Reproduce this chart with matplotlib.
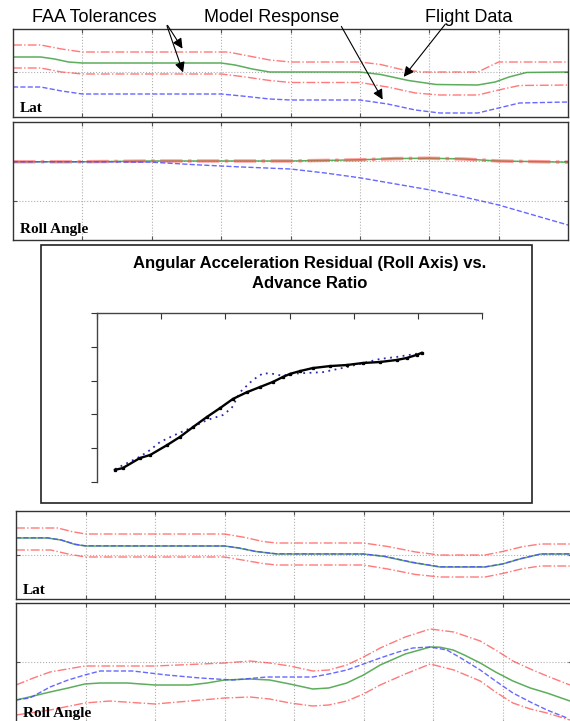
import numpy as np
import matplotlib.pyplot as plt
from matplotlib.patches import Rectangle, FancyArrowPatch

# =============================================================================
# Data
# =============================================================================

# --- top Lat panel ---
lat1_fd_x = [0, 0.4, 0.6, 0.8, 1.0, 3.0, 3.2, 3.45, 3.7, 5.0, 5.3, 5.7, 6.1, 6.7, 6.95, 7.15, 7.4, 8.0]
lat1_fd_y = [1.5, 1.5, 1.3, 1.0, 0.9, 0.9, 0.7, 0.3, 0.0, 0.0, -0.25, -0.85, -1.25, -1.3, -1.0, -0.5, -0.05, 0.0]
lat1_hi_x = [0, 0.4, 0.7, 1.0, 3.1, 3.4, 3.7, 4.0, 5.0, 5.3, 5.6, 5.9, 6.7, 6.85, 7.0, 8.0]
lat1_hi_y = [2.7, 2.7, 2.3, 2.0, 2.0, 1.6, 1.2, 1.0, 1.0, 0.75, 0.25, 0.0, 0.0, 0.5, 1.0, 1.0]
lat1_lo_x = [0, 0.4, 0.7, 1.0, 3.0, 3.3, 3.7, 4.0, 5.0, 5.4, 5.8, 6.15, 6.7, 7.0, 7.3, 8.0]
lat1_lo_y = [0.4, 0.4, 0.0, -0.2, -0.2, -0.45, -0.85, -1.05, -1.05, -1.5, -2.1, -2.3, -2.3, -1.8, -1.35, -1.3]
lat1_mod_x = [0, 0.4, 0.7, 1.0, 3.0, 3.3, 3.7, 4.0, 5.0, 5.4, 5.8, 6.15, 6.7, 7.0, 7.3, 8.0]
lat1_mod_y = [-1.5, -1.5, -1.9, -2.2, -2.2, -2.4, -2.7, -2.8, -2.8, -3.2, -3.8, -4.1, -4.1, -3.6, -3.1, -3.0]

# --- top Roll Angle panel ---
roll1_fd_x = [0, 1, 2, 3, 4, 5, 5.5, 6.0, 6.5, 7, 8]
roll1_fd_y = [-0.02, -0.02, 0, 0, 0, 0.03, 0.06, 0.07, 0.05, 0.0, -0.03]
roll1_mod_x = [0, 1, 2, 2.7, 3.3, 4.0, 4.5, 5.0, 5.5, 6.0, 6.5, 7.0, 7.5, 8.0]
roll1_mod_y = [-0.02, -0.02, -0.03, -0.1, -0.15, -0.2, -0.3, -0.42, -0.57, -0.72, -0.9, -1.1, -1.35, -1.6]

# --- residual vs advance ratio ---
adv_x = [0.28, 0.40, 0.67, 0.83, 1.09, 1.29, 1.50, 1.71, 1.92, 2.12, 2.34, 2.54, 2.74,
         2.90, 3.01, 3.16, 3.36, 3.63, 3.89, 4.14, 4.41, 4.67, 4.83, 4.98, 5.06]
resid_y = [-4.64, -4.59, -4.29, -4.20, -3.91, -3.67, -3.37, -3.08, -2.81, -2.54, -2.34, -2.19, -2.04,
           -1.89, -1.80, -1.72, -1.63, -1.57, -1.54, -1.48, -1.45, -1.39, -1.33, -1.24, -1.18]
adv_fit_x = [0.28, 0.67, 0.83, 0.98, 1.21, 1.50, 1.71, 1.96, 2.10, 2.23, 2.43, 2.59, 2.74,
             2.90, 3.01, 3.52, 3.89, 4.41, 4.67, 5.06]
resid_fit_y = [-4.62, -4.25, -4.05, -3.82, -3.61, -3.37, -3.17, -3.02, -2.81, -2.34, -1.98, -1.78, -1.80,
               -1.86, -1.80, -1.75, -1.60, -1.36, -1.30, -1.18]

# --- bottom Lat panel ---
lat2_fd_x = [0, 0.45, 0.65, 0.85, 1.0, 3.0, 3.2, 3.45, 3.75, 5.0, 5.3, 5.7, 6.1, 6.75, 7.0, 7.25, 7.55, 8.0]
lat2_fd_y = [1.7, 1.7, 1.5, 1.05, 0.9, 0.9, 0.7, 0.35, 0.1, 0.1, -0.15, -0.75, -1.2, -1.2, -0.9, -0.4, 0.1, 0.1]
lat2_mod_y = [1.72, 1.72, 1.5, 1.08, 0.92, 0.9, 0.72, 0.36, 0.12, 0.1, -0.12, -0.72, -1.18, -1.18, -0.9, -0.38, 0.1, 0.12]
lat2_hi_x = [0, 0.6, 0.8, 1.0, 3.0, 3.3, 3.55, 3.75, 5.0, 5.35, 5.75, 6.1, 6.75, 7.0, 7.3, 7.55, 8.0]
lat2_hi_y = [2.7, 2.7, 2.35, 2.1, 2.1, 1.75, 1.35, 1.2, 1.2, 0.85, 0.3, 0.0, 0.0, 0.35, 0.85, 1.1, 1.1]
lat2_lo_x = [0, 0.5, 0.75, 1.0, 3.0, 3.3, 3.55, 3.75, 5.0, 5.35, 5.75, 6.1, 6.75, 7.0, 7.3, 7.55, 8.0]
lat2_lo_y = [0.5, 0.5, 0.1, -0.2, -0.2, -0.55, -0.85, -1.0, -1.0, -1.4, -1.95, -2.2, -2.2, -1.85, -1.35, -1.1, -1.1]

# --- bottom Roll Angle panel ---
roll2_fd_x = [0, 0.13, 0.49, 0.75, 0.99, 1.21, 1.6, 2.0, 2.5, 2.75, 3.0, 3.37, 3.65, 3.94, 4.27, 4.5,
              4.76, 5.0, 5.24, 5.6, 5.96, 6.1, 6.29, 6.45, 6.68, 6.9, 7.15, 7.4, 7.64, 7.97]
roll2_fd_y = [-1.9, -1.8, -1.5, -1.3, -1.1, -1.05, -1.05, -1.15, -1.15, -1.05, -0.9, -0.85, -0.9, -1.1,
              -1.35, -1.3, -1.05, -0.65, -0.15, 0.4, 0.75, 0.74, 0.6, 0.35, -0.05, -0.5, -0.95, -1.3,
              -1.55, -1.95]
roll2_mod_x = [0, 0.2, 0.49, 0.75, 0.99, 1.21, 1.68, 2.17, 2.65, 3.12, 3.61, 4.27, 4.5, 4.76, 5.0,
               5.24, 5.5, 5.71, 5.96, 6.2, 6.4, 6.68, 6.9, 7.15, 7.4, 7.64, 7.93]
roll2_mod_y = [-1.9, -1.8, -1.25, -0.9, -0.65, -0.45, -0.45, -0.65, -0.8, -0.9, -0.75, -0.75, -0.6,
               -0.4, -0.1, 0.2, 0.5, 0.7, 0.75, 0.6, 0.2, -0.4, -0.95, -1.55, -2.0, -2.4, -2.8]
roll2_hi_x = [0, 0.25, 0.49, 0.99, 2.0, 3.0, 3.37, 3.65, 3.94, 4.27, 4.5, 4.76, 5.0, 5.24, 5.6, 5.96,
              6.3, 6.68, 6.9, 7.15, 7.4, 7.64, 7.97]
roll2_hi_y = [-1.15, -0.8, -0.5, -0.2, -0.2, -0.05, 0.05, -0.05, -0.2, -0.45, -0.4, -0.15, 0.25, 0.7,
              1.25, 1.65, 1.5, 1.05, 0.6, 0.05, -0.35, -0.7, -1.15]
roll2_lo_x = [0, 0.49, 0.99, 1.35, 2.0, 3.0, 3.37, 3.65, 3.94, 4.27, 4.5, 4.76, 5.0, 5.24, 5.6, 5.96,
              6.3, 6.68, 6.9, 7.15, 7.4, 7.64, 7.97]
roll2_lo_y = [-2.65, -2.4, -2.05, -1.95, -2.1, -1.8, -1.75, -1.85, -2.05, -2.2, -2.15, -1.95, -1.6,
              -1.15, -0.6, -0.1, -0.4, -0.95, -1.5, -2.05, -2.35, -2.55, -2.9]

# =============================================================================
# Layout helpers (pixel boxes -> figure fractions)
# =============================================================================
W, H = 570, 721
fig = plt.figure(figsize=(W / 100, H / 100), dpi=100)

def box(x0, y0, x1, y1):
    return [x0 / W, 1 - y1 / H, (x1 - x0) / W, (y1 - y0) / H]

def fpt(x, y):
    return (x / W, 1 - y / H)

RED = '#ff4d4d'
GREEN = '#3f9f3f'
BLUE = '#4d4dff'
label_font = dict(family=['Liberation Serif', 'DejaVu Serif'], fontweight='bold', fontsize=11)

def strip_panel(rect, ylim, yticks, label, label_y=0.06):
    ax = fig.add_axes(box(*rect))
    ax.set_xlim(0, 8)
    ax.set_ylim(*ylim)
    ax.set_xticks(range(1, 8))
    ax.set_yticks(yticks)
    ax.set_xticklabels([])
    ax.set_yticklabels([])
    ax.tick_params(direction='in', length=3, color='#555555', top=True, right=True)
    ax.grid(True, linestyle=':', color='#b0b0b0', linewidth=0.8)
    for s in ax.spines.values():
        s.set_linewidth(1.0)
        s.set_color('#333333')
    ax.text(0.012, label_y, label, transform=ax.transAxes, zorder=5, **label_font)
    return ax

# =============================================================================
# Top Lat panel
# =============================================================================
ax1 = strip_panel((13, 29, 568, 117), (-4.5, 4.3), [0], 'Lat')
ax1.plot(lat1_hi_x, lat1_hi_y, color=RED, ls='-.', lw=1, alpha=0.75)
ax1.plot(lat1_lo_x, lat1_lo_y, color=RED, ls='-.', lw=1, alpha=0.75)
ax1.plot(lat1_fd_x, lat1_fd_y, color=GREEN, lw=1.1, alpha=0.85)
ax1.plot(lat1_mod_x, lat1_mod_y, color=BLUE, ls='--', lw=1, alpha=0.85)

# =============================================================================
# Top Roll Angle panel
# =============================================================================
ax2 = strip_panel((13, 122, 568, 240), (-1.975, 0.975), [0, -1], 'Roll Angle')
ax2.plot(roll1_fd_x, roll1_fd_y, color=GREEN, lw=1.1, alpha=0.85)
ax2.plot(roll1_fd_x, roll1_fd_y, color=RED, ls='-.', lw=2.5, alpha=0.55)
ax2.plot(roll1_mod_x, roll1_mod_y, color=BLUE, ls='--', lw=1, alpha=0.85)

# =============================================================================
# Middle residual chart
# =============================================================================
fig.patches.append(Rectangle(fpt(41, 503), 491 / W, 258 / H, transform=fig.transFigure,
                             fill=False, edgecolor='#222222', linewidth=1.2))
title_font = dict(family=['Liberation Sans', 'DejaVu Sans'], fontweight='bold', fontsize=12,
                  ha='center')
fig.text(*fpt(310, 268), 'Angular Acceleration Residual (Roll Axis) vs.', **title_font)
fig.text(*fpt(310, 288), 'Advance Ratio', **title_font)

ax3 = fig.add_axes(box(97, 313, 482, 482))
ax3.set_xlim(0, 6)
ax3.set_ylim(-5, 0)
ax3.set_xticks(range(0, 7))
ax3.set_yticks(range(-5, 1))
ax3.set_xticklabels([])
ax3.set_yticklabels([])
ax3.xaxis.set_ticks_position('top')
ax3.tick_params(axis='x', direction='in', length=4, color='#333333')
ax3.tick_params(axis='y', direction='out', length=4, color='#333333')
ax3.spines['right'].set_visible(False)
ax3.spines['bottom'].set_visible(False)
for s in ('left', 'top'):
    ax3.spines[s].set_color('#444444')
    ax3.spines[s].set_linewidth(1.0)
ax3.plot(adv_fit_x, resid_fit_y, color='#2a2aa8', ls=(0, (1, 2.5)), lw=1.3)
ax3.plot(adv_x, resid_y, color='black', lw=1.7, marker='s', markersize=1.4)

# =============================================================================
# Bottom Lat panel
# =============================================================================
ax4 = strip_panel((16, 511, 572, 599), (-4.4, 4.4), [0], 'Lat')
ax4.plot(lat2_hi_x, lat2_hi_y, color=RED, ls='-.', lw=1, alpha=0.75)
ax4.plot(lat2_lo_x, lat2_lo_y, color=RED, ls='-.', lw=1, alpha=0.75)
ax4.plot(lat2_fd_x, lat2_fd_y, color=GREEN, lw=1.1, alpha=0.85)
ax4.plot(lat2_fd_x, lat2_mod_y, color=BLUE, ls='--', lw=1, alpha=0.85)

# =============================================================================
# Bottom Roll Angle panel
# =============================================================================
ax5 = strip_panel((16, 603, 572, 724), (-3.1, 2.95), [0], 'Roll Angle', label_y=0.06)
ax5.plot(roll2_hi_x, roll2_hi_y, color=RED, ls='-.', lw=1, alpha=0.75)
ax5.plot(roll2_lo_x, roll2_lo_y, color=RED, ls='-.', lw=1, alpha=0.75)
ax5.plot(roll2_fd_x, roll2_fd_y, color=GREEN, lw=1.1, alpha=0.85)
ax5.plot(roll2_mod_x, roll2_mod_y, color=BLUE, ls='--', lw=1, alpha=0.85)

# =============================================================================
# Annotations
# =============================================================================
note_font = dict(family=['Liberation Sans', 'DejaVu Sans'], fontsize=13, ha='center')
fig.text(*fpt(94, 22), 'FAA Tolerances', **note_font)
fig.text(*fpt(272, 22), 'Model Response', **note_font)
fig.text(*fpt(469, 22), 'Flight Data', **note_font)

arrows = [((166, 23), (184, 51)), ((166, 23), (184, 75)),
          ((340, 24), (384, 102)), ((447, 22), (402, 79))]
for (x0, y0), (x1, y1) in arrows:
    fig.patches.append(FancyArrowPatch(
        fpt(x0, y0), fpt(x1, y1), transform=fig.transFigure,
        arrowstyle='-|>', mutation_scale=15, color='black', linewidth=0.8))

fig.savefig('out.png', dpi=100)
